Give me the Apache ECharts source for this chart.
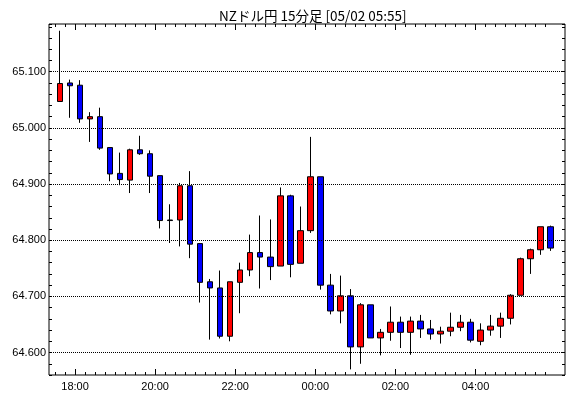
<!DOCTYPE html>
<html>
<head>
<meta charset="utf-8">
<script src="https://cdn.jsdelivr.net/npm/echarts@6/dist/echarts.min.js"></script>
<style>
    html, body { margin: 0; padding: 0; background: #fff; }
    #main { width: 570px; height: 398px; }
</style>
</head>
<body>
<div id="main"></div>
<script>
    // 15分足 (bar start times)
    const times = [
        '17:30', '17:45', '18:00', '18:15', '18:30', '18:45', '19:00', '19:15', '19:30', '19:45',
        '20:00', '20:15', '20:30', '20:45', '21:00', '21:15', '21:30', '21:45', '22:00', '22:15',
        '22:30', '22:45', '23:00', '23:15', '23:30', '23:45', '00:00', '00:15', '00:30', '00:45',
        '01:00', '01:15', '01:30', '01:45', '02:00', '02:15', '02:30', '02:45', '03:00', '03:15',
        '03:30', '03:45', '04:00', '04:15', '04:30', '04:45', '05:00', '05:15', '05:30', '05:45'
    ];
    const openVals = [
        65.047, 65.080, 65.076, 65.016, 65.020, 64.965, 64.919, 64.907, 64.961, 64.954,
        64.915, 64.836, 64.836, 64.897, 64.794, 64.726, 64.715, 64.629, 64.725, 64.747,
        64.778, 64.770, 64.754, 64.879, 64.759, 64.817, 64.913, 64.720, 64.674, 64.701,
        64.610, 64.685, 64.626, 64.636, 64.654, 64.636, 64.656, 64.642, 64.633, 64.638,
        64.645, 64.654, 64.620, 64.640, 64.647, 64.661, 64.702, 64.767, 64.783, 64.824
    ];
    const closeVals = [
        65.079, 65.075, 65.016, 65.020, 64.964, 64.918, 64.908, 64.961, 64.954, 64.914,
        64.835, 64.835, 64.897, 64.793, 64.725, 64.715, 64.629, 64.726, 64.747, 64.778,
        64.770, 64.753, 64.879, 64.757, 64.817, 64.913, 64.720, 64.674, 64.701, 64.610,
        64.685, 64.626, 64.636, 64.654, 64.636, 64.656, 64.642, 64.633, 64.638, 64.645,
        64.654, 64.622, 64.640, 64.647, 64.661, 64.702, 64.767, 64.783, 64.824, 64.786
    ];
    const lowVals = [
        65.047, 65.018, 65.009, 64.975, 64.961, 64.905, 64.898, 64.884, 64.952, 64.884,
        64.821, 64.795, 64.789, 64.768, 64.689, 64.623, 64.625, 64.620, 64.670, 64.736,
        64.714, 64.729, 64.754, 64.734, 64.759, 64.813, 64.712, 64.668, 64.652, 64.570,
        64.580, 64.626, 64.595, 64.621, 64.608, 64.596, 64.626, 64.623, 64.616, 64.629,
        64.638, 64.618, 64.613, 64.630, 64.626, 64.650, 64.702, 64.740, 64.774, 64.781
    ];
    const highVals = [
        65.173, 65.086, 65.085, 65.028, 65.036, 64.965, 64.956, 64.963, 64.986, 64.960,
        64.915, 64.864, 64.902, 64.923, 64.794, 64.731, 64.746, 64.726, 64.760, 64.810,
        64.844, 64.837, 64.894, 64.881, 64.860, 64.984, 64.913, 64.740, 64.737, 64.713,
        64.688, 64.685, 64.642, 64.682, 64.664, 64.664, 64.667, 64.658, 64.646, 64.671,
        64.667, 64.660, 64.652, 64.667, 64.671, 64.704, 64.769, 64.785, 64.824, 64.826
    ];
    const timeLabels = ['18:00', '20:00', '22:00', '00:00', '02:00', '04:00'];
    const priceLabels = [64.6, 64.7, 64.8, 64.9, 65.0, 65.1];

    const chart = echarts.init(document.getElementById('main'));

    // x = bar index, ticks sit on the bar boundaries
    const candles = times.map((t, i) => [i, openVals[i], closeVals[i], lowVals[i], highVals[i]]);
    const minorTicks = times.map((t, i) => i - 0.5);
    const majorTicks = timeLabels.map(t => times.indexOf(t) - 0.5);

    const xBase = {
        type: 'value',
        min: -1.1,
        max: 50.44,
        axisLine: { show: false, onZero: false },
        splitLine: { show: false },
        axisLabel: { show: false }
    };
    const tick = (vals, len) => ({
        inside: true,
        length: len,
        customValues: vals,
        lineStyle: { color: '#000', width: 1 }
    });

    const option = {
        animation: false,
        backgroundColor: '#fff',
        title: {
            text: 'NZドル円 15分足 [05/02 05:55]',
            left: 214,
            top: 4,
            textStyle: {
                fontFamily: 'Noto Sans CJK JP',
                fontSize: 13.5,
                fontWeight: 'normal',
                color: '#000'
            }
        },
        grid: {
            left: 49,
            right: 5,
            top: 24,
            bottom: 23,
            show: true,
            borderColor: '#000',
            borderWidth: 1,
            backgroundColor: '#fff'
        },
        xAxis: [
            Object.assign({}, xBase, { position: 'bottom', axisTick: tick(minorTicks, 3) }),
            Object.assign({}, xBase, {
                position: 'bottom',
                axisTick: tick(majorTicks, 6),
                axisLabel: {
                    show: true,
                    customValues: majorTicks,
                    margin: 6,
                    color: '#000',
                    fontFamily: 'Liberation Sans',
                    fontSize: 11,
                    formatter: v => times[Math.round(v + 0.5)]
                }
            }),
            Object.assign({}, xBase, { position: 'top', axisTick: tick(minorTicks, 3) }),
            Object.assign({}, xBase, { position: 'top', axisTick: tick(majorTicks, 6) })
        ],
        yAxis: [
            {
                type: 'value',
                position: 'left',
                min: 64.56,
                max: 65.185,
                interval: 0.02,
                axisLine: { show: false, onZero: false },
                splitLine: { show: false },
                axisTick: { inside: true, length: 3, lineStyle: { color: '#000' } },
                axisLabel: {
                    margin: 3,
                    color: '#000',
                    fontFamily: 'Liberation Sans',
                    fontSize: 11,
                    formatter: v => priceLabels.some(p => Math.abs(p - v) < 1e-6) ? v.toFixed(3) : ''
                }
            },
            {
                type: 'value',
                position: 'right',
                min: 64.56,
                max: 65.185,
                interval: 0.02,
                axisLine: { show: false, onZero: false },
                splitLine: { show: false },
                axisTick: { inside: true, length: 3, lineStyle: { color: '#000' } },
                axisLabel: { show: false }
            }
        ],
        series: [
            {
                name: 'NZD/JPY',
                type: 'candlestick',
                xAxisIndex: 0,
                yAxisIndex: 0,
                barWidth: 6,
                encode: { x: 0, y: [1, 2, 3, 4] },
                itemStyle: {
                    color: '#ff0000',
                    color0: '#0000ff',
                    borderColor: '#000',
                    borderColor0: '#000',
                    borderWidth: 1
                },
                markLine: {
                    silent: true,
                    symbol: 'none',
                    label: { show: false },
                    lineStyle: { color: '#000', type: [1, 1], width: 1 },
                    data: priceLabels.map(p => ({ yAxis: p }))
                },
                data: candles
            }
        ]
    };
    option && chart.setOption(option);
</script>
</body>
</html>
